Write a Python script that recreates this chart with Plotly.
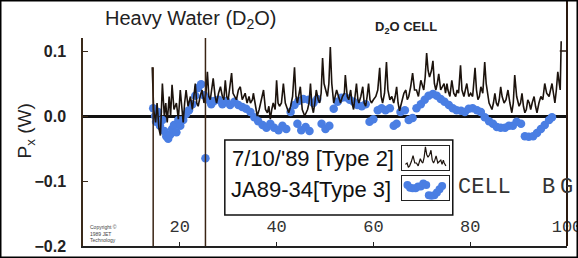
import plotly.graph_objects as go

# ---- data ----
black_x = [14.3, 14.6, 15.0, 15.3, 15.7, 16.0, 16.4, 16.8, 17.1, 17.4, 17.8, 18.1, 18.4, 18.8, 19.3, 19.7,
           20.1, 20.4, 20.7, 21.0, 21.3, 21.7, 22.2, 22.6, 23.0, 23.2, 23.5, 23.8, 24.2, 24.6, 25.0, 25.4,
           25.7, 26.0, 26.3, 26.6, 26.9, 27.3, 27.6, 28.0, 28.4, 28.8, 29.1, 29.4, 29.7, 30.0, 30.3, 30.7,
           31.0, 31.4, 31.7, 32.1, 32.5, 32.9, 33.2, 33.5, 33.9, 34.3, 34.6, 35.0, 35.2, 35.6, 36.0, 36.4,
           36.8, 37.3, 37.7, 38.1, 38.4, 38.7, 39.0, 39.3, 39.7, 40.0, 40.3, 40.6, 41.0, 41.4, 41.8, 42.2,
           42.5, 42.9, 43.3, 43.7, 44.0, 44.3, 44.6, 44.9, 45.3, 45.8, 46.1, 46.4, 46.7, 47.0, 47.3, 47.6,
           47.9, 48.2, 48.6, 48.9, 49.2, 49.5, 49.8, 50.1, 50.5, 50.8, 51.1, 51.4, 51.8, 52.1, 52.4, 52.8,
           53.2, 53.6, 54.0, 54.2, 54.6, 54.9, 55.3, 55.6, 55.9, 56.2, 56.5, 56.8, 57.0, 57.4, 57.8, 58.1,
           58.4, 58.7, 59.0, 59.3, 59.6, 60.0, 60.5, 60.9, 61.3, 61.6, 61.9, 62.3, 62.7, 63.0, 63.4, 63.8,
           64.2, 64.5, 64.8, 65.1, 65.4, 65.8, 66.3, 66.7, 67.0, 67.3, 67.7, 68.1, 68.5, 68.9, 69.3, 69.8,
           70.1, 70.4, 70.7, 71.0, 71.3, 71.6, 72.0, 72.3, 72.6, 72.9, 73.2, 73.5, 73.9, 74.3, 74.6, 74.9,
           75.2, 75.4, 75.8, 76.2, 76.6, 77.0, 77.3, 77.6, 78.0, 78.3, 78.7, 79.0, 79.3, 79.7, 80.1, 80.5,
           81.0, 81.3, 81.6, 81.9, 82.2, 82.6, 83.0, 83.3, 83.6, 83.9, 84.2, 84.5, 84.8, 85.1, 85.4, 85.7,
           86.0, 86.3, 86.6, 87.0, 87.4, 87.8, 88.2, 88.6, 88.9, 89.2, 89.6, 90.1, 90.4, 90.7, 91.0, 91.3,
           91.6, 91.9, 92.2, 92.5, 92.8, 93.2, 93.5, 93.8, 94.2, 94.6, 95.0, 95.4, 95.8, 96.3, 96.6, 96.9,
           97.2, 97.5, 97.8, 98.1, 98.4, 98.6, 98.8]
black_y = [0.075, 0.01, -0.01, 0.02, -0.02, -0.03, 0.05, 0.0, 0.02, -0.01, 0.03, 0.0, 0.048, 0.01, 0.02, -0.005,
           0.04, 0.01, -0.01, 0.02, 0.04, 0.015, 0.03, 0.01, 0.035, 0.05, 0.02, 0.015, 0.03, 0.04, 0.02, 0.035,
           0.068, 0.03, 0.025, 0.04, 0.058, 0.03, 0.02, 0.035, 0.045, 0.03, 0.025, 0.055, 0.03, 0.025, 0.04, 0.066,
           0.035, 0.03, 0.025, 0.04, 0.045, 0.025, 0.03, 0.035, 0.02, 0.03, 0.02, 0.025, 0.035, 0.015, 0.0, 0.01,
           0.025, 0.04, 0.01, 0.005, 0.015, -0.005, 0.01, 0.02, 0.01, 0.055, 0.02, 0.015, 0.02, 0.05, 0.02, 0.01,
           0.005, 0.015, 0.03, 0.075, 0.03, 0.02, 0.03, 0.045, 0.01, 0.0, 0.005, 0.01, 0.02, 0.05, 0.015, 0.005,
           0.02, 0.04, 0.025, 0.02, 0.035, 0.089, 0.05, 0.04, 0.03, 0.05, 0.106, 0.05, 0.02, 0.03, 0.04, 0.03,
           0.02, 0.03, 0.035, 0.063, 0.03, 0.025, 0.04, 0.02, 0.01, 0.03, 0.05, 0.025, 0.02, 0.03, 0.045, 0.02,
           0.015, 0.03, 0.05, 0.025, 0.02, 0.025, 0.03, 0.04, 0.074, 0.03, 0.02, 0.035, 0.083, 0.04, 0.025, 0.03,
           0.02, 0.03, 0.045, 0.02, 0.008, 0.02, 0.035, 0.04, 0.025, 0.03, 0.045, 0.066, 0.04, 0.04, 0.03, 0.055,
           0.045, 0.04, 0.06, 0.097, 0.07, 0.06, 0.07, 0.085, 0.05, 0.04, 0.05, 0.065, 0.04, 0.045, 0.05, 0.035,
           0.05, 0.04, 0.03, 0.055, 0.035, 0.03, 0.04, 0.035, 0.078, 0.04, 0.03, 0.04, 0.05, 0.03, 0.035, 0.03,
           0.074, 0.04, 0.025, 0.03, 0.045, 0.035, 0.083, 0.05, 0.03, 0.02, 0.015, 0.01, 0.02, 0.035, 0.02, 0.015,
           0.025, 0.045, 0.03, 0.02, 0.025, 0.04, 0.02, 0.005, 0.02, 0.063, 0.03, 0.015, 0.02, 0.035, 0.015, 0.005,
           0.01, 0.025, 0.02, 0.01, 0.02, 0.03, 0.015, 0.005, 0.02, 0.03, 0.025, 0.05, 0.035, 0.03, 0.04, 0.05,
           0.035, 0.02, 0.04, 0.068, 0.05, 0.04, 0.115]

blue_x = [14.5, 14.9, 15.1, 15.5, 15.9, 16.4, 16.8, 17.2, 17.6, 18.0, 18.4, 18.8, 19.3, 19.7, 20.1, 20.7,
          21.3, 21.9, 22.6, 23.2, 23.8, 24.4, 25.0, 25.3, 25.9, 26.5, 27.1, 28.0, 28.8, 29.6, 30.4, 31.3,
          32.1, 32.9, 33.7, 34.6, 35.4, 36.2, 37.1, 37.9, 38.7, 39.5, 40.4, 41.2, 42.0, 42.9, 43.7, 44.5,
          44.3, 45.1, 46.0, 46.8, 45.5, 46.6, 47.6, 48.4, 49.3, 50.1, 50.9, 51.8, 52.6, 53.4, 54.2, 55.1,
          55.9, 56.7, 57.6, 58.4, 59.2, 60.0, 60.9, 61.7, 62.5, 63.4, 64.2, 64.8, 65.6, 66.5, 67.3, 68.1,
          68.9, 69.8, 70.6, 71.4, 72.3, 73.1, 73.9, 74.7, 75.6, 76.4, 77.2, 78.1, 78.9, 79.7, 80.5, 81.4,
          82.2, 83.0, 83.9, 84.7, 85.5, 86.3, 87.2, 88.0, 88.8, 89.6, 90.5, 91.3, 92.1, 93.0, 93.8, 94.6,
          95.4, 96.3, 96.9]
blue_y = [0.012, 0.0, -0.009, 0.006, -0.015, -0.006, -0.023, -0.031, -0.035, -0.029, -0.02, -0.014, -0.025, -0.006, -0.015, -0.006,
          0.003, 0.009, 0.018, 0.031, 0.043, 0.049, 0.032, -0.065, 0.025, 0.018, 0.023, 0.025, 0.018, 0.023, 0.017, 0.022,
          0.017, 0.014, 0.011, 0.006, -0.002, -0.008, -0.014, -0.018, -0.012, -0.018, -0.022, -0.015, -0.02, 0.006, 0.017, 0.023,
          -0.012, -0.022, -0.017, -0.023, 0.026, 0.025, 0.02, 0.026, -0.012, -0.02, -0.015, 0.011, 0.022, 0.028, 0.029, 0.025,
          0.022, 0.017, 0.015, 0.018, -0.009, -0.005, 0.009, 0.012, 0.009, 0.012, -0.015, -0.012, 0.006, 0.009, -0.006, -0.003,
          0.012, 0.018, 0.025, 0.031, 0.034, 0.031, 0.026, 0.022, 0.017, 0.012, 0.009, 0.008, 0.006, 0.011, 0.012, 0.009,
          0.006, -0.002, -0.008, -0.012, -0.017, -0.018, -0.018, -0.015, -0.015, -0.009, -0.012, -0.031, -0.032, -0.031, -0.026, -0.02,
          -0.014, -0.006, -0.002]

x_ticks = [20, 40, 60, 80, 100]
y_ticks = [0.1, 0.0, -0.1, -0.2]
y_ticktext = ["0.1", "0.0", "\u22120.1", "\u22120.2"]
marker_lines_x = [14.5, 25.3]
marker_lines_top = [0.075, 0.12]
legend_labels = ["7/10/'89 [Type 2]", "JA89-34[Type 3]"]

BLACK = "#1c130d"
BLUE = "#4a7ee3"

fig = go.Figure()
fig.add_trace(go.Scatter(x=blue_x, y=blue_y, mode="markers",
                         marker=dict(size=8.5, color=BLUE, line=dict(width=0)), showlegend=False))
fig.add_trace(go.Scatter(x=black_x, y=black_y, mode="lines",
                         line=dict(color=BLACK, width=1.6), showlegend=False))

# inset "legend" swatches built from slices of the series
ins_bx = [x for x in black_x if 66 <= x <= 76]
ins_by = [y for x, y in zip(black_x, black_y) if 66 <= x <= 76]
ins_ux = [x for x in blue_x if 84 <= x <= 96]
ins_uy = [y for x, y in zip(blue_x, blue_y) if 84 <= x <= 96]
fig.add_trace(go.Scatter(x=ins_bx, y=ins_by, mode="lines", xaxis="x2", yaxis="y2",
                         line=dict(color=BLACK, width=1.2), showlegend=False))
fig.add_trace(go.Scatter(x=ins_ux, y=ins_uy, mode="markers", xaxis="x3", yaxis="y3",
                         marker=dict(size=8, color=BLUE), showlegend=False))

shapes = []
for xv, top in zip(marker_lines_x, marker_lines_top):
    shapes.append(dict(type="line", xref="x", yref="y", x0=xv, x1=xv, y0=-0.2, y1=top,
                       line=dict(color="#3a2414", width=1.5), layer="above"))
# right border line (extends above the plot) and its tick
shapes.append(dict(type="line", xref="paper", yref="paper", x0=1.0, x1=1.0, y0=0, y1=1.18,
                   line=dict(color="#2a1a10", width=2)))
shapes.append(dict(type="line", xref="paper", yref="paper", x0=0.985, x1=1.0, y0=0.9375, y1=0.9375,
                   line=dict(color="#2a1a10", width=1.5)))
# legend box
shapes.append(dict(type="rect", xref="paper", yref="paper", x0=0.293, x1=0.764, y0=0.149, y1=0.51,
                   line=dict(color="#111", width=1.5), fillcolor="white", layer="below"))
# outer border of the picture
shapes.append(dict(type="rect", xref="paper", yref="paper", x0=-0.1715, x1=1.0227, y0=-0.0577, y1=1.1827,
                   line=dict(color="black", width=3)))

annotations = [
    dict(text="Heavy Water (D<sub>2</sub>O)", xref="paper", yref="paper", x=0.223, y=1.091,
         xanchor="center", yanchor="middle",
         showarrow=False, font=dict(family="Liberation Sans", size=20, color="#222")),
    dict(text="<b>D<sub>2</sub>O CELL</b>", xref="paper", yref="paper", x=0.667, y=1.05,
         xanchor="center", yanchor="middle",
         showarrow=False, font=dict(family="Liberation Sans", size=13, color="#222")),
    dict(text="P<sub>x</sub> (W)", xref="paper", yref="paper", x=-0.118, y=0.555, textangle=-90,
         xanchor="center", yanchor="middle",
         showarrow=False, font=dict(family="Liberation Sans", size=19, color="#222")),
    dict(text=legend_labels[0], xref="paper", yref="paper", x=0.304, y=0.423, xanchor="left",
         yanchor="middle",
         showarrow=False, font=dict(family="Liberation Sans", size=22, color="#111")),
    dict(text=legend_labels[1], xref="paper", yref="paper", x=0.302, y=0.27, xanchor="left",
         yanchor="middle",
         showarrow=False, font=dict(family="Liberation Sans", size=22, color="#111")),
    dict(text="CELL", xref="paper", yref="paper", x=0.771, y=0.279, xanchor="left",
         yanchor="middle",
         showarrow=False, font=dict(family="Liberation Mono", size=22, color="#333")),
    dict(text="B", xref="paper", yref="paper", x=0.944, y=0.279, xanchor="left",
         yanchor="middle",
         showarrow=False, font=dict(family="Liberation Mono", size=22, color="#333")),
    dict(text="G", xref="paper", yref="paper", x=0.981, y=0.279, xanchor="left",
         yanchor="middle",
         showarrow=False, font=dict(family="Liberation Mono", size=22, color="#333")),
    dict(text="Copyright \u00a9<br>1989 JET<br>Technology", xref="paper", yref="paper", x=0.01, y=0.058,
         xanchor="left", yanchor="middle", align="left", showarrow=False,
         font=dict(family="Liberation Sans", size=5, color="#444")),
]

noaxis = dict(showticklabels=False, ticks="", showgrid=False, zeroline=False, showline=True,
              mirror=True, linecolor="#222", linewidth=1, automargin=False)

fig.update_layout(
    width=578, height=258, autosize=False,
    margin=dict(l=83, r=11, t=38, b=12, pad=0, autoexpand=False),
    paper_bgcolor="white", plot_bgcolor="white",
    showlegend=False,
    shapes=shapes, annotations=annotations,
    xaxis=dict(range=[0, 100], tickvals=x_ticks, ticks="inside", ticklen=4, tickcolor="#222",
               ticklabelposition="inside", ticklabeloverflow="allow", ticklabelstandoff=7,
               tickfont=dict(family="Liberation Mono", size=17, color="#333"), automargin=False,
               showgrid=False, zeroline=False, showline=True, linecolor="#222", linewidth=2),
    yaxis=dict(range=[-0.2, 0.12], tickvals=y_ticks, ticktext=y_ticktext, ticks="inside", ticklen=5,
               tickcolor="#3a2a1a", ticklabelstandoff=12, automargin=False,
               tickfont=dict(family="Liberation Sans", size=16, color="#222", weight="bold"),
               showgrid=False, zeroline=True, zerolinecolor="#111", zerolinewidth=2.5,
               showline=True, linecolor="#3a2a1a", linewidth=1.5),
    xaxis2=dict(domain=[0.659, 0.756], anchor="y2", range=[65.5, 76.5], **noaxis),
    yaxis2=dict(domain=[0.365, 0.481], anchor="x2", range=[0.015, 0.1], **noaxis),
    xaxis3=dict(domain=[0.659, 0.756], anchor="y3", range=[83, 97.5], **noaxis),
    yaxis3=dict(domain=[0.221, 0.337], anchor="x3", range=[-0.04, 0.005], **noaxis),
)

fig.write_html("out.html")
